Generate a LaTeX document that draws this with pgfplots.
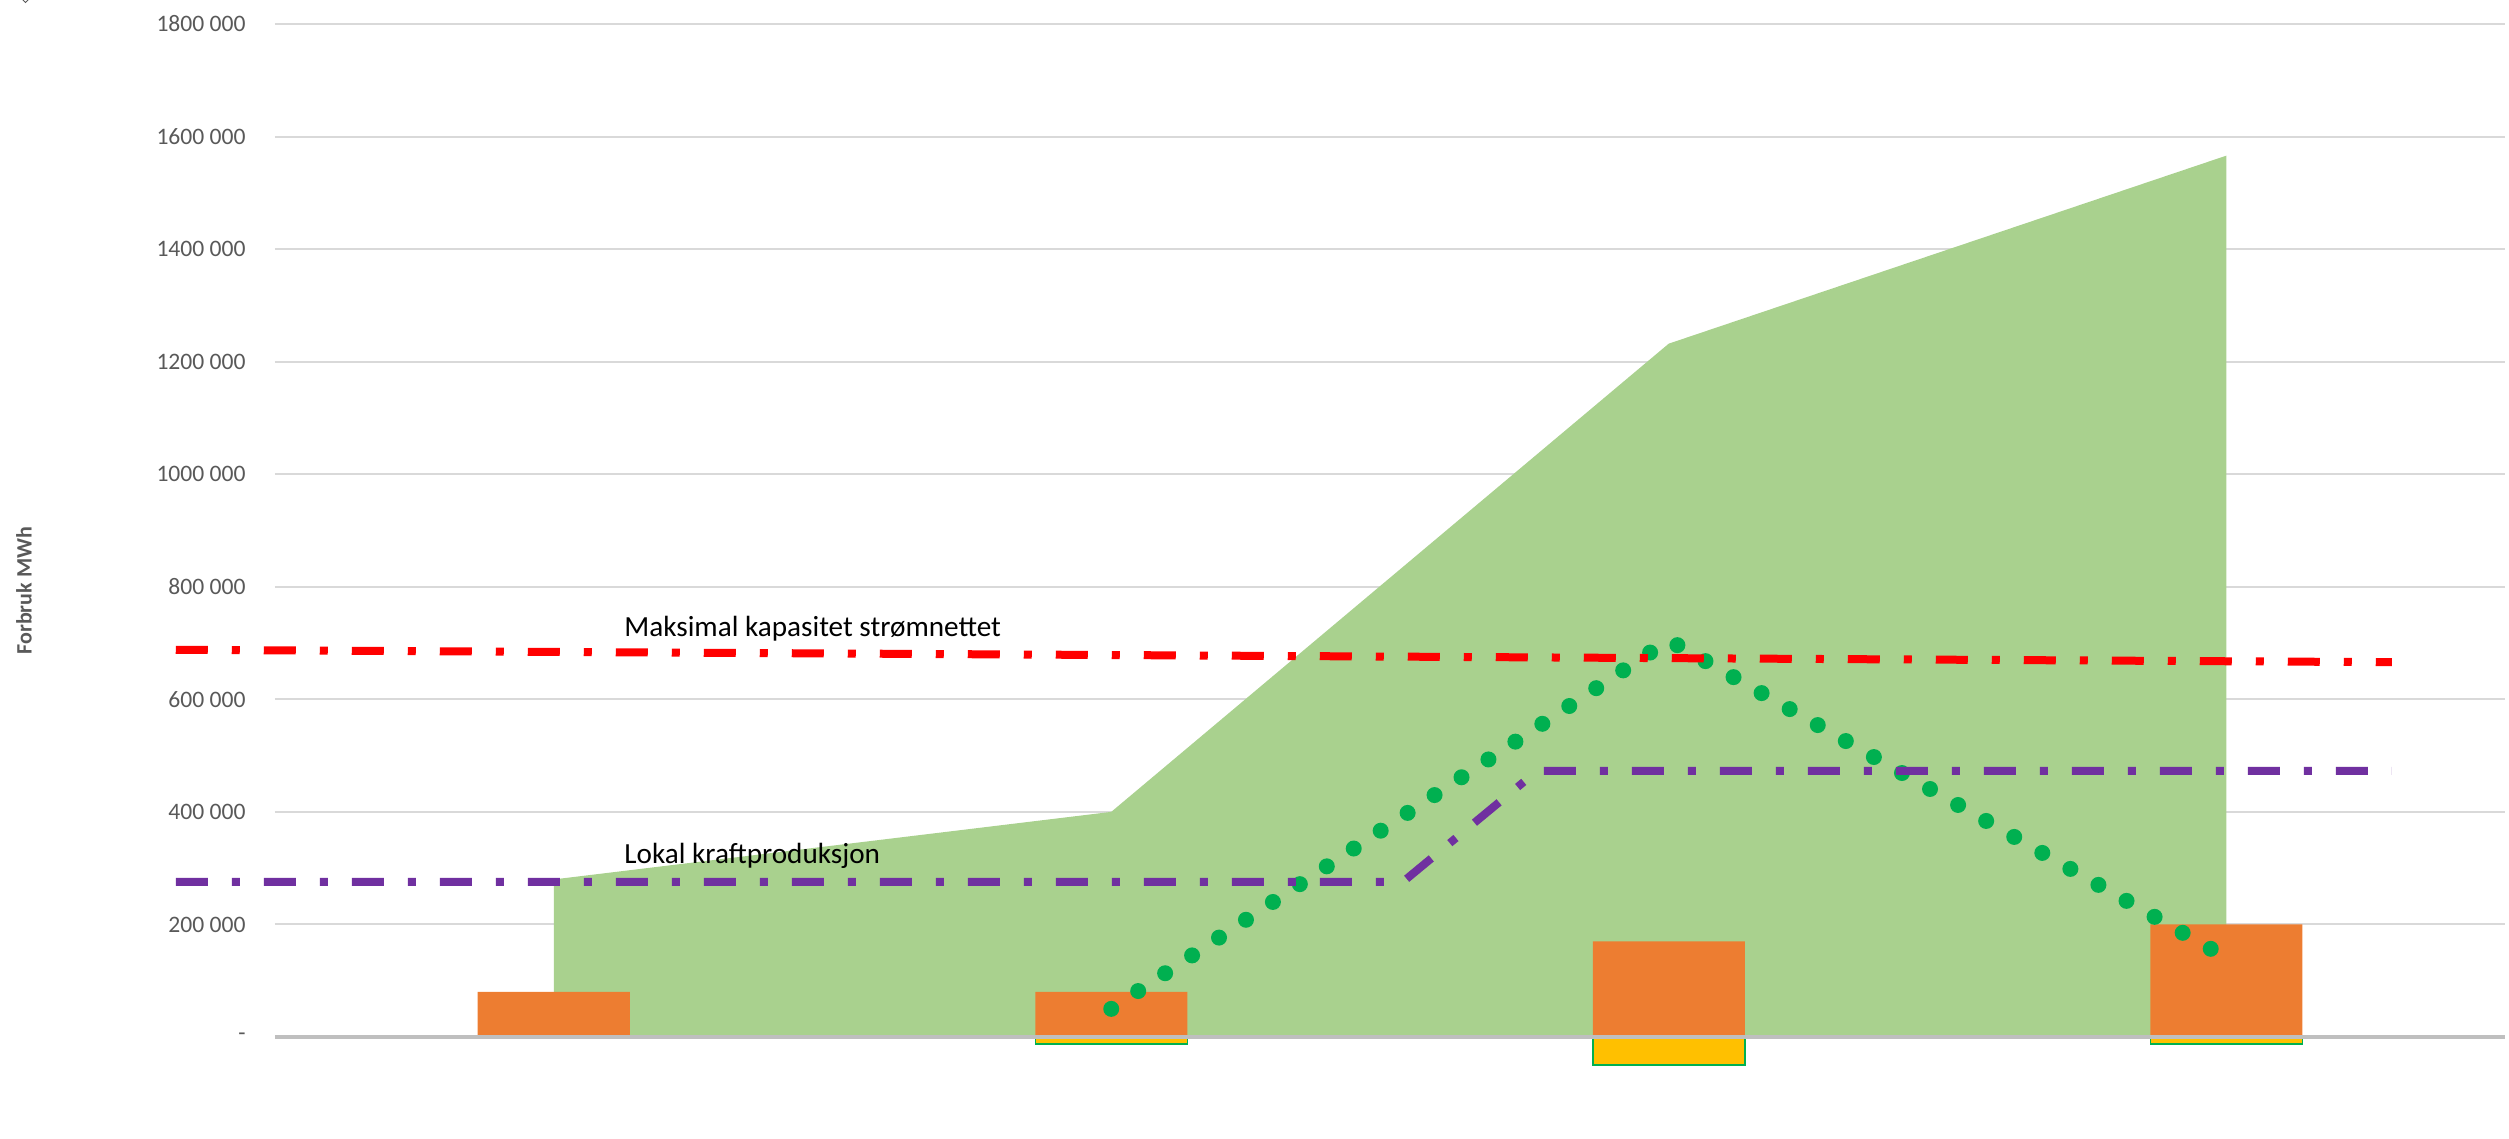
\documentclass[border=0pt]{standalone}
\usepackage{pgfplots}
\pgfplotsset{compat=1.18}
\usepackage{fontspec}
\setmainfont{Carlito}
\definecolor{areagreen}{HTML}{A9D18E}
\definecolor{barorange}{HTML}{ED7D31}
\definecolor{baryellow}{HTML}{FFC000}
\definecolor{dotgreen}{HTML}{00B050}
\definecolor{linered}{HTML}{FF0000}
\definecolor{linepurple}{HTML}{7030A0}
\definecolor{gridgray}{HTML}{D9D9D9}
\definecolor{axisgray}{HTML}{BFBFBF}
\definecolor{textgray}{HTML}{595959}
\begin{document}
\begin{tikzpicture}
\begin{axis}[
  at={(0pt,0pt)}, anchor=south west,
  scale only axis, width=1115pt, height=506.5pt,
  xmin=-0.5, xmax=3.5, ymin=0, ymax=1800000,
  clip=false,
  axis line style={draw=none},
  xtick=\empty,
  ytick={0,200000,400000,600000,800000,1000000,1200000,1400000,1600000,1800000},
  yticklabels={{-\hspace{5pt}},{200 000},{400 000},{600 000},{800 000},{1000 000},{1200 000},{1400 000},{1600 000},{1800 000}},
  scaled y ticks=false,
  major tick length=0pt,
  yticklabel style={font=\fontsize{11.8}{14}\selectfont, text=textgray, inner sep=0pt, xshift=-14.5pt, anchor=east},
  ymajorgrids,
  grid style={color=gridgray, line width=1pt},
]
% consumption area
\addplot[fill=areagreen, draw=none] coordinates {(0,280000) (1,400000) (2,1232000) (3,1566000)} \closedcycle;
% orange bars
\addplot[ybar, bar width=76pt, bar shift=0pt, fill=barorange, draw=none] coordinates {(0,80000) (1,80000) (2,170000) (3,200000)};
% yellow negative bars
\addplot[ybar, bar width=76pt, bar shift=0pt, fill=baryellow, draw=dotgreen, line width=0.75pt] coordinates {(1,-12000) (2,-50000) (3,-12000)};
% zero axis line
\draw[axisgray, line width=1.7pt] (axis cs:-0.5,0) -- (axis cs:3.5,0);
% green dotted line
\addplot[color=dotgreen, line width=8pt, line cap=round, dash pattern=on 0pt off 16.15pt] coordinates {(1,50000) (2,705000) (3,141000)};
% local production
\addplot[color=linepurple, line width=4pt, line cap=butt, dash pattern=on 16pt off 12pt on 4pt off 12pt] coordinates {(-0.678,275500) (1.523,275500) (1.764,473000) (3.297,473000)};
% max grid capacity
\addplot[color=linered, line width=4pt, line cap=butt, dash pattern=on 16pt off 12pt on 4pt off 12pt] coordinates {(-0.678,688000) (3.297,666000)};
% annotations
\node[anchor=base west, inner sep=0pt, font=\fontsize{14.6}{17}\selectfont] at (axis cs:0.126,711000) {Maksimal kapasitet strømnettet};
\node[anchor=base west, inner sep=0pt, font=\fontsize{14.6}{17}\selectfont] at (axis cs:0.126,307500) {Lokal kraftproduksjon};
% y label
\node[rotate=90, inner sep=0pt, font=\fontsize{11}{13}\selectfont\bfseries, text=textgray] at (axis cs:-0.9502,793000) {Forbruk MWh};
\end{axis}
\draw[textgray, line width=0.5pt] (-128.5pt,521pt) -- (-124.75pt,517.25pt) -- (-121pt,521pt);
\pgfresetboundingbox
\path[use as bounding box] (-137.5pt,-51pt) rectangle (1117pt,518.5pt);
\end{tikzpicture}
\end{document}
